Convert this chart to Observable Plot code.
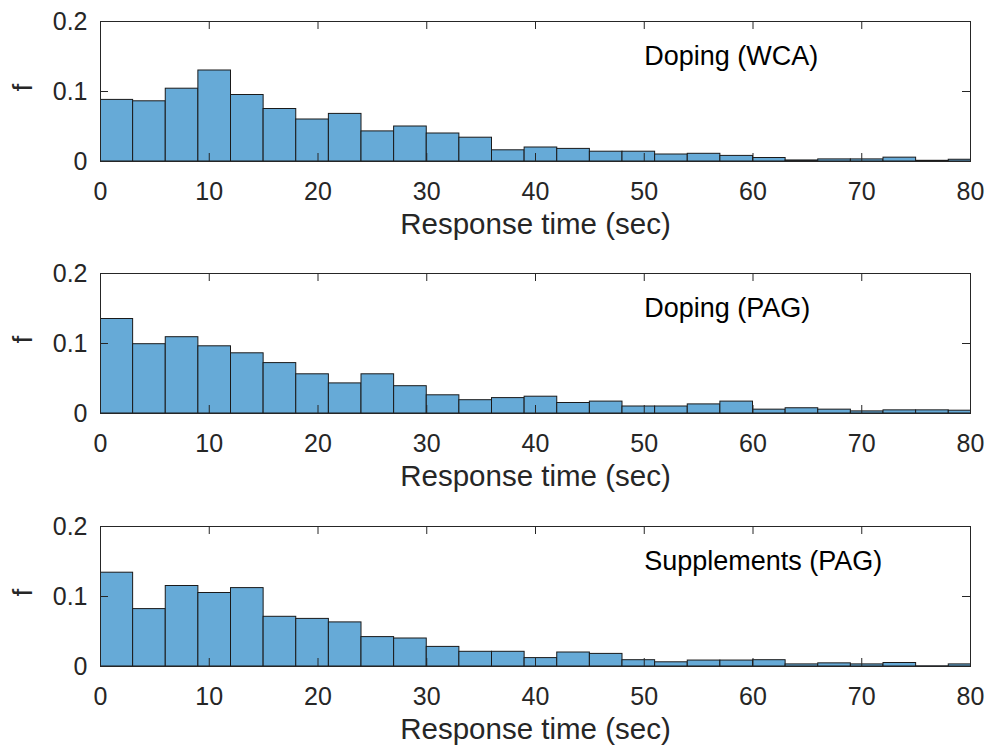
<!DOCTYPE html>
<html>
<head>
<meta charset="utf-8">
<script src="https://cdn.jsdelivr.net/npm/d3@7"></script>
<script src="https://cdn.jsdelivr.net/npm/@observablehq/plot@0.6"></script>
<style>
  html, body { margin: 0; padding: 0; background: #fff; overflow: hidden; }
  #chart { position: relative; width: 989px; height: 751px; }
  .panel { position: absolute; left: 0; }
</style>
</head>
<body>
<div id="chart"></div>
<script>
// Bin start edges (bin width 3 s)
const binStarts = [0,3,6,9,12,15,18,21,24,27,30,33,36,39,42,45,48,51,54,57,60,63,66,69,72,75,78];
const binWidth = 3;

// Relative frequencies per bin
const dopingWCA = [0.088,0.086,0.104,0.130,0.095,0.075,0.060,0.068,0.043,0.050,0.040,0.034,0.016,0.020,0.018,0.014,0.014,0.010,0.011,0.008,0.005,0.0015,0.003,0.003,0.0055,0.001,0.0025];
const dopingPAG = [0.135,0.099,0.109,0.096,0.086,0.072,0.056,0.043,0.056,0.039,0.026,0.019,0.022,0.024,0.015,0.017,0.010,0.010,0.013,0.017,0.0055,0.0075,0.0055,0.003,0.0045,0.0045,0.004];
const supplementsPAG = [0.134,0.082,0.115,0.105,0.112,0.071,0.068,0.063,0.042,0.040,0.028,0.021,0.021,0.012,0.020,0.018,0.009,0.006,0.0085,0.0085,0.009,0.003,0.0045,0.003,0.005,0.0003,0.003];

const panelTitles = ["Doping (WCA)", "Doping (PAG)", "Supplements (PAG)"];
const panelSeries = [dopingWCA, dopingPAG, supplementsPAG];
const titleX = 50, titleY = 0.15;

const xTicks = [0,10,20,30,40,50,60,70,80];
const yTicks = [0,0.1,0.2];
const xLabel = "Response time (sec)";
const yLabel = "f";

const panelTops = [0, 252, 505];
const axisColor = "#262626";
const barFill = "#66aad7";

const W = 989, mL = 100, mR = 19, mT = 21, plotH = 140, mB = 90;
const plotW = W - mL - mR;
const tickLen = 8;

function makePanel(values, title) {
  const bins = binStarts.map((s, i) => ({x1: s, x2: s + binWidth, f: values[i]}));
  return Plot.plot({
    width: W,
    height: mT + plotH + mB,
    marginLeft: mL,
    marginRight: mR,
    marginTop: mT,
    marginBottom: mB,
    style: {fontFamily: "'Liberation Sans', Arial, Helvetica, sans-serif", background: "#fff", color: axisColor},
    x: {domain: [0, 80]},
    y: {domain: [0, 0.2]},
    marks: [
      Plot.rectY(bins, {x1: "x1", x2: "x2", y: "f", fill: barFill, stroke: "#1a1a1a", strokeWidth: 1, clip: true}),
      Plot.frame({stroke: axisColor, strokeWidth: 1}),
      // inward ticks (bottom, top, left, right)
      Plot.tickX(xTicks, {x: d => d, stroke: axisColor, insetTop: plotH - tickLen}),
      Plot.tickX(xTicks, {x: d => d, stroke: axisColor, insetBottom: plotH - tickLen}),
      Plot.tickY(yTicks, {y: d => d, stroke: axisColor, insetRight: plotW - tickLen}),
      Plot.tickY(yTicks, {y: d => d, stroke: axisColor, insetLeft: plotW - tickLen}),
      Plot.axisX(xTicks, {tickSize: 0, tickPadding: 21, fontSize: 25, label: null, fill: axisColor}),
      Plot.axisY(yTicks, {tickSize: 0, tickPadding: 13, fontSize: 25, label: null, fill: axisColor, tickFormat: d => String(d)}),
      Plot.text([xLabel], {frameAnchor: "bottom", dy: 52, lineAnchor: "top", fontSize: 29.5, fill: axisColor, text: d => d}),
      Plot.text([yLabel], {frameAnchor: "left", dx: -77, rotate: -90, fontSize: 28, fill: axisColor, text: d => d}),
      Plot.text([title], {x: titleX, y: titleY, text: d => d, textAnchor: "start", fontSize: 27, fill: "#000"})
    ]
  });
}

const chart = document.getElementById("chart");
panelSeries.forEach((vals, i) => {
  const div = document.createElement("div");
  div.className = "panel";
  div.style.top = panelTops[i] + "px";
  div.appendChild(makePanel(vals, panelTitles[i]));
  chart.appendChild(div);
});
</script>
</body>
</html>
